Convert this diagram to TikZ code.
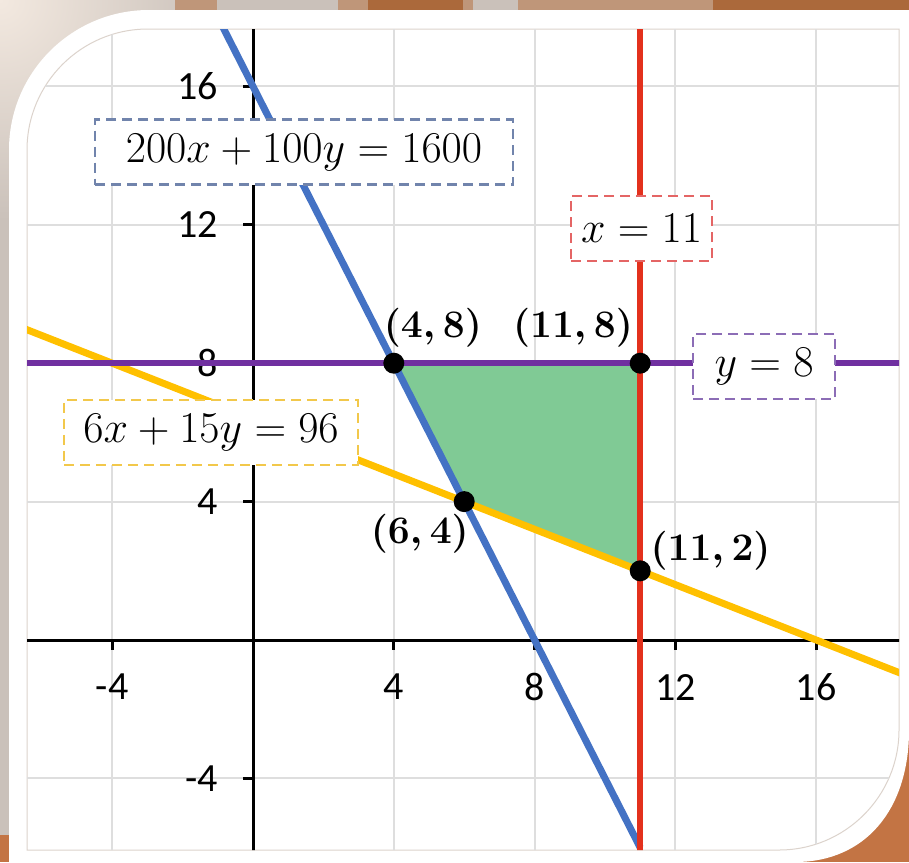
\RequirePackage{fix-cm}
\documentclass[tikz,border=0pt]{standalone}
\usepackage{amsmath}
\usepackage{fontspec}
\usepackage{xcolor}
\usepackage{tikz}
\usetikzlibrary{positioning,calc}
\newfontfamily\tickfont{Carlito}

\definecolor{lineblue}{HTML}{4472C4}
\definecolor{linered}{HTML}{E3311D}
\definecolor{linepurple}{HTML}{7030A0}
\definecolor{lineyellow}{HTML}{FFC000}
\definecolor{regiongreen}{HTML}{80CA95}
\definecolor{gridgray}{HTML}{DEDEDE}
\definecolor{boxblue}{HTML}{7184AC}
\definecolor{boxred}{HTML}{E46565}
\definecolor{boxpurple}{HTML}{8C6DB6}
\definecolor{boxyellow}{HTML}{F2C84B}
\definecolor{bggray}{HTML}{CAC1BA}
\definecolor{bgbeige}{HTML}{F3E9E0}
\definecolor{bgtan}{HTML}{BF9679}
\definecolor{bgbrown}{HTML}{AB693B}
\definecolor{bgorange}{HTML}{C37444}
\definecolor{framegray}{HTML}{DCD3CC}

\begin{document}
\begin{tikzpicture}[
    x=1pt, y=-1pt,
    grid_line/.style={draw=gridgray, line width=2pt},
    axis_line/.style={draw=black, line width=3pt},
    tick_label/.style={font=\tickfont\fontsize{40}{44}\selectfont, inner sep=0pt},
    eq_box/.style={fill=white, line width=2.5pt, dash pattern=on 10pt off 6pt, inner sep=0pt, minimum height=65pt, font=\fontsize{44}{48}\selectfont},
    corner_pt/.style={circle, fill=black, inner sep=0pt, minimum size=21pt},
    point_label/.style={font=\fontsize{39}{43}\selectfont\boldmath, inner sep=0pt}
]

    % background and card
    \useasboundingbox (0,0) rectangle (909,862);
    \fill[bggray] (0,0) rectangle (909,862);
    \shade[inner color=bgbeige, outer color=bggray] (0,0) circle[radius=220pt];
    \fill[bgtan] (175,0) rectangle (217,10);
    \fill[bgtan] (338,0) rectangle (368,10);
    \fill[bgbrown] (368,0) rectangle (463,10);
    \fill[bgtan] (463,0) rectangle (473,10);
    \fill[bgtan] (518,0) rectangle (713,10);
    \fill[bgbrown] (713,0) rectangle (909,10);
    \fill[bgorange] (0,835) rectangle (9,862);
    \fill[bgorange] (700,650) rectangle (909,862);
    \fill[white] (9,862) -- (9,150) .. controls (9,72.7) and (71.7,10) .. (149,10) -- (909,10) -- (909,730) .. controls (909,810) and (865,862) .. (795,862) -- cycle;
    \draw[framegray, line width=1pt] (27,850) -- (27,150) .. controls (27,83.2) and (81.2,29) .. (148,29) -- (899,29) -- (899,730) .. controls (899,796.2) and (845.2,850) .. (779,850) -- cycle;

    \begin{scope}
    \clip (27,850) -- (27,150) .. controls (27,83.2) and (81.2,29) .. (148,29) -- (899,29) -- (899,730) .. controls (899,796.2) and (845.2,850) .. (779,850) -- cycle;
    \begin{scope}[shift={(253,640)}, x=35.2pt, y=34.6pt]

    % grid
    \foreach \g in {-4,4,8,12,16} {
        \draw[grid_line] (\g,-7) -- (\g,18);
        \draw[grid_line] (-7,\g) -- (19,\g);
    }

    % axes
    \draw[axis_line] (-7,0) -- (19,0);
    \draw[axis_line] (0,-7) -- (0,18);
    \foreach \g in {-4,4,8,12,16} {
        \draw[axis_line] (\g,0) -- (\g,-0.3);
        \draw[axis_line] (0,\g) -- (-0.29,\g);
        \node[tick_label] (xt\g) at (\g,-1.36) {\g};
        \node[tick_label, anchor=east] (yt\g) at (-1.0,\g) {\g};
    }

    % feasible region and constraints
    \fill[regiongreen] (4,8) -- (11,8) -- (11,2) -- (6,4) -- cycle;
    \draw[lineyellow, line width=7pt] (-7,9.2) -- (19,-1.2);
    \draw[lineblue, line width=7pt] (-1,18) -- (11,-6);
    \draw[linered, line width=6pt] (11,-7) -- (11,18);
    \draw[linepurple, line width=6pt] (-7,8) -- (19,8);

    \node[eq_box, draw=boxblue, minimum width=418pt] (eqBudget) at (1.45,14.1) {$200x + 100y = 1600$};
    \node[eq_box, draw=boxred, minimum width=141pt] (eqXmax) at (11.04,11.89) {$x = 11$};
    \node[eq_box, draw=boxpurple, minimum width=142pt] (eqYmax) at (14.52,7.9) {$y = 8$};
    \node[eq_box, draw=boxyellow, minimum width=294pt] (eqMix) at (-1.19,6.0) {$6x + 15y = 96$};

    % vertices
    \node[corner_pt] (p48) at (4,8) {};
    \node[corner_pt] (p118) at (11,8) {};
    \node[corner_pt] (p64) at (6,4) {};
    \node[corner_pt] (p112) at (11,2) {};
    \node[point_label] (l48) at (5.11,9.02) {$(4,8)$};
    \node[point_label] (l118) at (9.09,9.02) {$(11,8)$};
    \node[point_label] (l64) at (4.74,3.06) {$(6,4)$};
    \node[point_label] (l112) at (13.0,2.57) {$(11,2)$};

    \end{scope}
    \end{scope}
\end{tikzpicture}
\end{document}
